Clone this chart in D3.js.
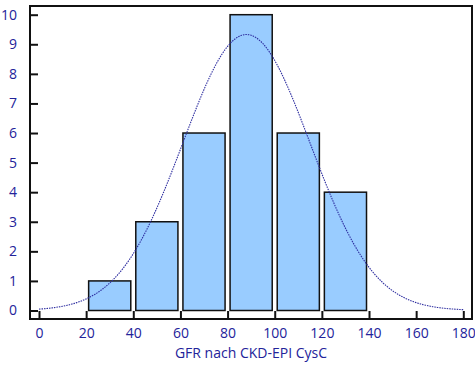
<!DOCTYPE html>
<html>
<head>
<meta charset="utf-8">
<script src="https://cdn.jsdelivr.net/npm/d3@7"></script>
<style>
  body { margin: 0; background: #fff; }
  svg { display: block; }
</style>
</head>
<body>
<svg id="chart" width="475" height="367"></svg>
<script>
// Histogram bins (lower edge, upper edge) and counts
const binStarts = [20, 40, 60, 80, 100, 120];
const binEnds = [40, 60, 80, 100, 120, 140];
const counts = [1, 3, 6, 10, 6, 4];

// Tick labels
const xTicks = [0, 20, 40, 60, 80, 100, 120, 140, 160, 180];
const yTicks = [0, 1, 2, 3, 4, 5, 6, 7, 8, 9, 10];

// Fitted normal curve parameters (peak height, mean, standard deviation)
const curvePeak = 9.33;
const curveMean = 88;
const curveSd = 27;

const svg = d3.select("#chart");
const textColor = "#23239a";
const font = "'Open Sans', sans-serif";

const x = d3.scaleLinear().domain([0, 180]).range([39, 463.3]);
const y = d3.scaleLinear().domain([0, 10]).range([310.5, 14.7]);

// Bars
svg.append("g").selectAll("rect")
  .data(counts)
  .enter().append("rect")
  .attr("x", (d, i) => x(binStarts[i]) + 2.5)
  .attr("width", (d, i) => x(binEnds[i]) - x(binStarts[i]) - 5)
  .attr("y", d => y(d))
  .attr("height", d => y(0) - y(d))
  .attr("fill", "#99ccff")
  .attr("stroke", "#111")
  .attr("stroke-width", 1.5);

// Normal curve
const curveXs = d3.range(0, 180.5, 1);
const line = d3.line()
  .x(d => x(d))
  .y(d => y(curvePeak * Math.exp(-((d - curveMean) ** 2) / (2 * curveSd * curveSd))))
  .curve(d3.curveMonotoneX);
svg.append("path")
  .datum(curveXs)
  .attr("d", line)
  .attr("fill", "none")
  .attr("stroke", "#2e2ea0")
  .attr("stroke-width", 1.1)
  .attr("stroke-dasharray", "1.5,1");

// Frame
const frameL = 30, frameT = 6, frameR = 472, frameB = 319;
svg.append("rect")
  .attr("x", frameL).attr("y", frameT)
  .attr("width", frameR - frameL).attr("height", frameB - frameT)
  .attr("fill", "none")
  .attr("stroke", "#111")
  .attr("stroke-width", 2);

// Y axis ticks and labels
const yAxis = d3.axisLeft(y).tickValues(yTicks).tickSize(-8).tickPadding(13);
const gy = svg.append("g").attr("transform", `translate(${frameL},0)`).call(yAxis);
gy.select(".domain").remove();
gy.selectAll(".tick line").attr("stroke", "#111").attr("stroke-width", 2);
gy.selectAll(".tick text")
  .attr("fill", textColor)
  .style("font-family", font)
  .style("font-size", "14px");

// X axis ticks and labels
const xAxis = d3.axisBottom(x).tickValues(xTicks).tickSize(-8).tickPadding(9);
const gx = svg.append("g").attr("transform", `translate(0,${frameB})`).call(xAxis);
gx.select(".domain").remove();
gx.selectAll(".tick line").attr("stroke", "#111").attr("stroke-width", 2);
gx.selectAll(".tick text")
  .attr("fill", textColor)
  .style("font-family", font)
  .style("font-size", "14px");

// Axis title
svg.append("text")
  .attr("x", 251)
  .attr("y", 358)
  .attr("text-anchor", "middle")
  .attr("fill", textColor)
  .style("font-family", font)
  .style("font-size", "14px")
  .text("GFR nach CKD-EPI CysC");
</script>
</body>
</html>
